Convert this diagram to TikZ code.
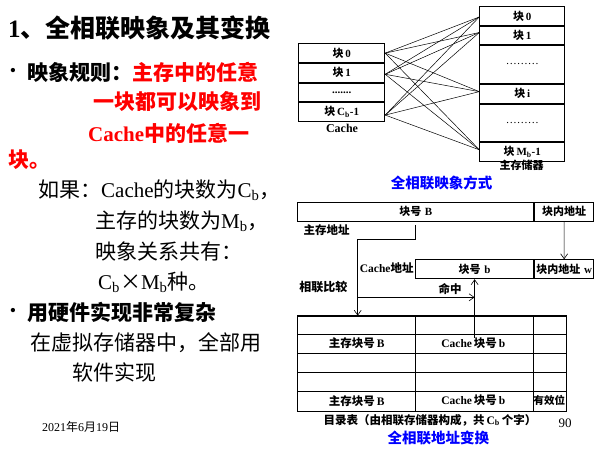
\documentclass[tikz,border=0pt]{standalone}
\usepackage{fontspec}
\setmainfont{Liberation Serif}
\newfontfamily\cjk{Noto Sans CJK SC}
\usetikzlibrary{arrows.meta,calc}
\newcommand\zh[1]{{\cjk #1}}
\begin{document}
\begin{tikzpicture}[x=1pt,y=-1pt,
  cell/.style={draw, line width=0.9pt, inner sep=0, anchor=north west,
    font=\fontsize{11}{13}\selectfont\bfseries},
  lbl/.style={inner sep=0, font=\fontsize{11.5}{13}\selectfont\bfseries},
  link/.style={line width=0.5pt},
  arr/.style={line width=0.6pt, -{Straight Barb[length=5pt,width=7pt]}},
  body/.style={anchor=west, inner sep=0, font=\fontsize{21}{25}\selectfont},
  bbody/.style={body, font=\fontsize{21}{25}\selectfont\bfseries},
  captext/.style={inner sep=0, text=blue, font=\fontsize{14.5}{16}\selectfont\bfseries}]

\useasboundingbox (0,0) rectangle (612,452);

% ---------- left column text ----------
\node[anchor=west, inner sep=0, font=\fontsize{25}{29}\selectfont\bfseries] (title)
  at (8,28) {1\zh{、全相联映象及其变换}};
\node[anchor=center, inner sep=0, font=\fontsize{18}{20}\selectfont] (bul1) at (13,72) {\textbullet};
\node[bbody] (r1) at (27,72) {\zh{映象规则：}\textcolor{red}{\zh{主存中的任意}}};
\node[bbody, text=red] (r2) at (93,102) {\zh{一块都可以映象到}};
\node[bbody, text=red] (r3) at (88,133) {Cache\zh{中的任意一}};
\node[bbody, text=red] (r4) at (8,160) {\zh{块。}};
\node[body] (n1) at (38,190) {\zh{如果：}Cache\zh{的块数为}C\textsubscript{b}\zh{，}};
\node[body] (n2) at (95,221) {\zh{主存的块数为}M\textsubscript{b}\zh{，}};
\node[body] (n3) at (95,252) {\zh{映象关系共有：}};
\node[body] (n4) at (98,282) {C\textsubscript{b}\zh{×}M\textsubscript{b}\zh{种。}};
\node[anchor=center, inner sep=0, font=\fontsize{18}{20}\selectfont] (bul2) at (13,312) {\textbullet};
\node[bbody] (h1) at (27,312) {\zh{用硬件实现非常复杂}};
\node[body] (s1) at (30,343) {\zh{在虚拟存储器中，全部用}};
\node[body] (s2) at (72,372) {\zh{软件实现}};
\node[anchor=west, inner sep=0, font=\fontsize{12}{14}\selectfont] (date)
  at (42,427) {2021\zh{年}6\zh{月}19\zh{日}};
\node[inner sep=0, font=\fontsize{13}{15}\selectfont] (pg) at (565,423) {90};

% ---------- cache blocks ----------
\node[cell, minimum width=86pt, minimum height=18.75pt] (c0) at (298.3,43.3) {\zh{块}\,0};
\node[cell, minimum width=86pt, minimum height=18.75pt] (c1) at (c0.south west) {\zh{块}\,1};
\node[cell, minimum width=86pt, minimum height=18.75pt] (c2) at (c1.south west) {.......};
\node[cell, minimum width=86pt, minimum height=18.75pt] (c3) at (c2.south west) {\zh{块}\,C\textsubscript{b}-1};
\node[lbl, font=\fontsize{12}{14}\selectfont\bfseries] (cachelbl) at (342,128) {Cache};

% ---------- main memory blocks ----------
\node[cell, minimum width=85pt, minimum height=19pt] (m0) at (479.3,6) {\zh{块}\,0};
\node[cell, minimum width=85pt, minimum height=18.3pt] (m1) at (m0.south west) {\zh{块}\,1};
\node[cell, minimum width=85pt, minimum height=37.7pt] (md1) at (m1.south west) {\mdseries\ldots\ldots\ldots};
\node[cell, minimum width=85pt, minimum height=19pt] (mi) at (md1.south west) {\zh{块}\,i};
\node[cell, minimum width=85pt, minimum height=37.7pt] (md2) at (mi.south west) {\mdseries\ldots\ldots\ldots};
\node[cell, minimum width=85pt, minimum height=18.3pt] (mM) at (md2.south west) {\zh{块}\,M\textsubscript{b}-1};
\node[lbl, font=\fontsize{11}{13}\selectfont\bfseries] (memlbl) at (521.7,165.5) {\zh{主存储器}};

% every cache block may hold any main-memory block
\coordinate (s0) at (c0.east);
\coordinate (s1) at ([yshift=-1.5pt]c1.east);
\coordinate (s2) at ([yshift=-3pt]c3.east);
\coordinate (t0) at ([yshift=-1pt]m0.west);
\coordinate (t1) at ([yshift=3pt]m1.west);
\coordinate (t2) at ([yshift=2pt]mi.west);
\coordinate (t3) at ([yshift=2pt]mM.west);
\foreach \s in {s0,s1,s2}
  \foreach \t in {t0,t1,t2,t3}
    \draw[link] (\s) -- (\t);

\node[captext] (cap1) at (441.7,183) {\zh{全相联映象方式}};

% ---------- address translation ----------
\node[cell, minimum width=236pt, minimum height=19.3pt] (ba) at (297.3,201.7) {\zh{块号}\,\,B};
\node[cell, minimum width=59pt, minimum height=19.3pt] (bw) at (ba.north east) {\zh{块内地址}};
\node[lbl] (mainaddr) at (326.7,230) {\zh{主存地址}};

\node[cell, minimum width=118.3pt, minimum height=19pt] (cb) at (415,259.3) {\zh{块号}\,\,b};
\node[cell, minimum width=59pt, minimum height=19pt] (cw) at (cb.north east) {\zh{块内地址}\,\,w};
\node[lbl] (cacheaddr) at (386.7,268) {Cache\zh{地址}};
\node[lbl, font=\fontsize{12}{14}\selectfont\bfseries] (cmp) at (323.3,286.7) {\zh{相联比较}};
\node[lbl] (hit) at (450,289.3) {\zh{命中}};

% directory table
\node[draw, line width=0.9pt, minimum width=268.4pt, minimum height=95pt,
  anchor=north west, inner sep=0] (tab) at (297.3,315.7) {};
\draw[line width=1.6pt] (tab.north west) -- (tab.north east);
\foreach \y in {334.3,353.3,372.3,391.7}
  \draw[line width=0.9pt] (tab.west |- 0,\y) -- (tab.east |- 0,\y);
\foreach \x in {415.7,533.3}
  \draw[line width=0.9pt] (\x,0 |- tab.north) -- (\x,0 |- tab.south);
\node[lbl] (tB2) at (356.7,343.3) {\zh{主存块号}\,B};
\node[lbl] (tb2) at (473.3,343.3) {Cache\,\zh{块号}\,b};
\node[lbl] (tB5) at (356.7,400.7) {\zh{主存块号}\,B};
\node[lbl] (tb5) at (473.3,400.7) {Cache\,\zh{块号}\,b};
\node[lbl, font=\fontsize{10.5}{12}\selectfont\bfseries] (tv5) at (549.3,400.7) {\zh{有效位}};
\node[inner sep=0, font=\fontsize{11.5}{13}\selectfont\bfseries] (dircap) at (430,420)
  {\zh{目录表（由相联存储器构成，共}\,C\textsubscript{b}\,\zh{个字）}};

\coordinate (j) at (357.7,239);
\coordinate (h) at (357.7,297.3);
\draw[arr] ([yshift=-3pt]ba.south) |- (j) -- (j |- tab.north);
\draw[arr] (h) -- (h -| cb.south);
\draw[arr] (tb2.north -| cb.south) -- (cb.south);
\draw[arr] (bw.south) -- (cw.north);

\node[captext] (cap2) at (438.3,438.3) {\zh{全相联地址变换}};
\end{tikzpicture}
\end{document}
